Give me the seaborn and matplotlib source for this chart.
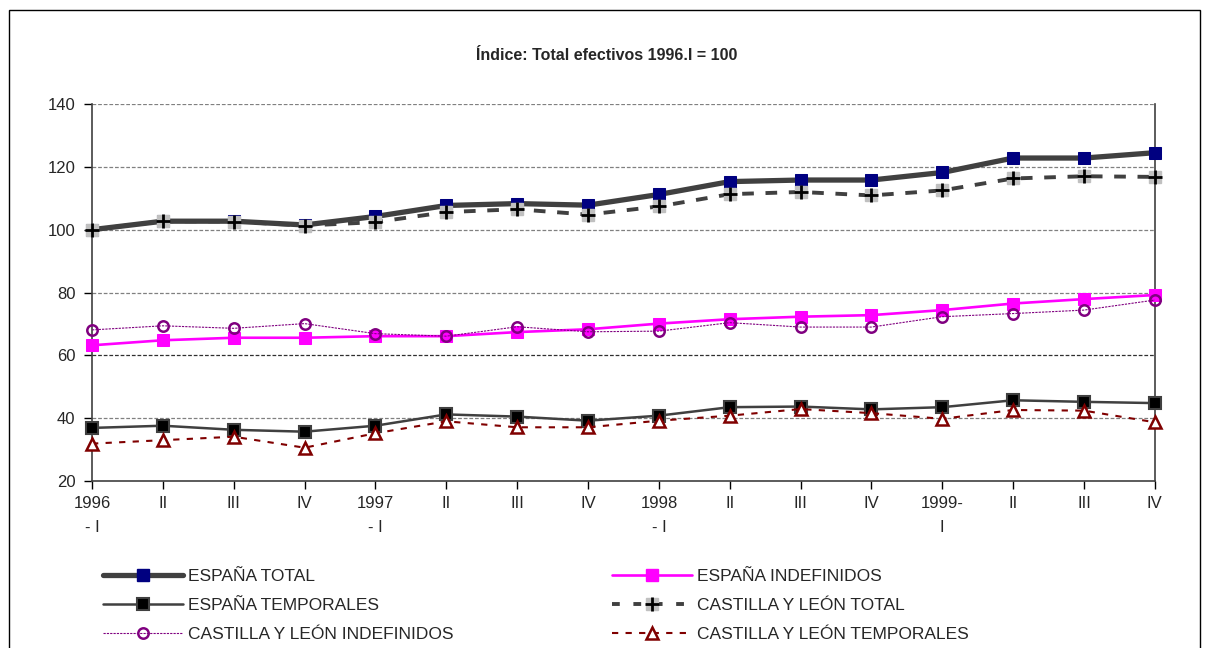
"""Índice de efectivos: España vs Castilla y León, 1996-1999 (base 1996.I = 100)."""

import matplotlib
matplotlib.use("Agg")
import matplotlib.pyplot as plt
from matplotlib.legend_handler import HandlerTuple
from matplotlib.patches import Rectangle
import numpy as np
import pandas as pd
import seaborn as sns

# quarters
quarters = ["1996\n- I", "II", "III", "IV",
            "1997\n- I", "II", "III", "IV",
            "1998\n- I", "II", "III", "IV",
            "1999-\nI", "II", "III", "IV"]

# series (index 1996.I = 100)
espana_total = [100.0, 102.7, 102.7, 101.5, 104.2, 107.7, 108.3, 107.8,
                111.2, 115.3, 115.8, 115.8, 118.2, 122.8, 122.8, 124.5]
espana_indef = [63.2, 64.8, 65.6, 65.6, 66.1, 66.1, 67.4, 68.3,
                70.1, 71.5, 72.3, 72.8, 74.4, 76.5, 77.9, 79.2]
espana_temp = [36.9, 37.6, 36.3, 35.7, 37.6, 41.2, 40.5, 39.2,
               40.8, 43.5, 43.7, 42.8, 43.5, 45.7, 45.2, 44.8]
cyl_total = [100.0, 102.7, 102.6, 101.3, 102.4, 105.6, 106.5, 104.8,
             107.4, 111.3, 112.0, 110.9, 112.5, 116.3, 117.0, 116.8]
cyl_indef = [68.1, 69.4, 68.6, 70.1, 66.9, 66.1, 69.1, 67.5,
             67.7, 70.4, 69.0, 69.0, 72.3, 73.3, 74.4, 77.6]
cyl_temp = [31.9, 33.0, 34.1, 30.6, 35.2, 39.0, 37.1, 37.1,
            39.2, 40.8, 42.9, 41.6, 39.8, 42.6, 42.4, 38.7]

y_ticks = [20, 40, 60, 80, 100, 120, 140]

sns.set_theme(style="white")
plt.rcParams["font.family"] = ["Liberation Sans", "DejaVu Sans"]

df = pd.DataFrame({
    "x": np.arange(len(quarters)),
    "espana_total": espana_total,
    "espana_indef": espana_indef,
    "espana_temp": espana_temp,
    "cyl_total": cyl_total,
    "cyl_indef": cyl_indef,
    "cyl_temp": cyl_temp,
})

fig = plt.figure(figsize=(12.08, 6.48), dpi=100)
ax = fig.add_axes([0.0762, 0.2577, 0.8798, 0.5818])

dark = "#404040"

# España total: thick grey line, navy squares
sns.lineplot(data=df, x="x", y="espana_total", ax=ax, color=dark, linewidth=3.8,
             marker="s", markersize=8.5, markerfacecolor="#000080",
             markeredgecolor="#000080", zorder=3, clip_on=False)
# Castilla y León total: dashed line, grey square + black cross
sns.lineplot(data=df, x="x", y="cyl_total", ax=ax, color=dark, linewidth=2.8,
             linestyle=(0, (3, 3)), zorder=4)
ax.plot(df["x"], df["cyl_total"], linestyle="none", marker="s", markersize=8.5,
        markerfacecolor="#C0C0C0", markeredgecolor="#C0C0C0", zorder=5,
        clip_on=False)
ax.plot(df["x"], df["cyl_total"], linestyle="none", marker="+", markersize=10,
        markeredgewidth=2, color="black", zorder=6, clip_on=False)

# España indefinidos: magenta
sns.lineplot(data=df, x="x", y="espana_indef", ax=ax, color="#FF00FF",
             linewidth=1.9, marker="s", markersize=8.5, markerfacecolor="#FF00FF",
             markeredgecolor="#FF00FF", zorder=3, clip_on=False)
# Castilla y León indefinidos: thin purple, hollow circles
sns.lineplot(data=df, x="x", y="cyl_indef", ax=ax, color="#800080",
             linewidth=0.8, linestyle=(0, (2, 1)), marker="o", markersize=7.5,
             markerfacecolor="none", markeredgecolor="#800080",
             markeredgewidth=1.8, zorder=4, clip_on=False)

# España temporales: grey line, black squares
sns.lineplot(data=df, x="x", y="espana_temp", ax=ax, color=dark, linewidth=1.8,
             marker="s", markersize=8, markerfacecolor="black",
             markeredgecolor=dark, markeredgewidth=1.5, zorder=3, clip_on=False)
# Castilla y León temporales: dark red dashed, hollow triangles
sns.lineplot(data=df, x="x", y="cyl_temp", ax=ax, color="#800000",
             linewidth=1.5, linestyle=(0, (3, 3.5)), marker="^", markersize=8,
             markerfacecolor="white", markeredgecolor="#800000",
             markeredgewidth=1.8, zorder=4, clip_on=False)

ax.set_xlim(0, len(quarters) - 1)
ax.set_ylim(20, 140)
ax.set_yticks(y_ticks)
ax.set_yticklabels([str(v) for v in y_ticks], fontsize=12)
ax.set_xticks(np.arange(len(quarters)))
ax.set_xticklabels(quarters, fontsize=12, linespacing=1.75, va="top")
ax.set_xlabel("")
ax.set_ylabel("")
ax.tick_params(axis="both", direction="out", length=6, width=1, color="black",
               bottom=True, left=True, pad=6)
ax.tick_params(axis="x", pad=5)

for y in y_ticks[1:]:
    ax.axhline(y, color="#808080" if y != 60 else "#303030", linewidth=0.9,
               linestyle=(0, (3, 1.5)), zorder=1)

for side in ["left", "bottom", "right"]:
    ax.spines[side].set_color(dark)
    ax.spines[side].set_linewidth(1.2)
ax.spines["top"].set_visible(False)

fig.text(0.502, 0.915, "Índice: Total efectivos 1996.I = 100",
         ha="center", va="center", fontsize=11.5, fontweight="bold")

# legend handles, drawn in two separate columns
h_esp_total = plt.Line2D([], [], color=dark, lw=3.8, marker="s", ms=8.5,
                         mfc="#000080", mec="#000080")
h_esp_indef = plt.Line2D([], [], color="#FF00FF", lw=1.9, marker="s", ms=8.5,
                         mfc="#FF00FF", mec="#FF00FF")
h_esp_temp = plt.Line2D([], [], color=dark, lw=1.8, marker="s", ms=8,
                        mfc="black", mec=dark, mew=1.5)
h_cyl_line = plt.Line2D([], [], color=dark, lw=2.8, ls=(0, (2, 3.5)),
                        marker="s", ms=8.5, mfc="#C0C0C0", mec="#C0C0C0")
h_cyl_plus = plt.Line2D([], [], ls="none", marker="+", ms=10, mew=2,
                        color="black")
h_cyl_indef = plt.Line2D([], [], color="#800080", lw=0.8, ls=(0, (2, 1)),
                         marker="o", ms=7.5, mfc="none", mec="#800080", mew=1.8)
h_cyl_temp = plt.Line2D([], [], color="#800000", lw=1.5, ls=(0, (3, 3.5)),
                        marker="^", ms=8, mfc="white", mec="#800000", mew=1.8)

legend_kw = dict(frameon=False, fontsize=12.5, handlelength=4.6,
                 handletextpad=0.3, labelspacing=0.8, borderaxespad=0,
                 borderpad=0, handler_map={tuple: HandlerTuple(ndivide=1)})

fig.legend([h_esp_total, h_esp_temp, h_cyl_indef],
           ["ESPAÑA TOTAL", "ESPAÑA TEMPORALES", "CASTILLA Y LEÓN INDEFINIDOS"],
           loc="upper left", bbox_to_anchor=(0.085, 0.1227), **legend_kw)
fig.legend([h_esp_indef, (h_cyl_line, h_cyl_plus), h_cyl_temp],
           ["ESPAÑA INDEFINIDOS", "CASTILLA Y LEÓN TOTAL",
            "CASTILLA Y LEÓN TEMPORALES"],
           loc="upper left", bbox_to_anchor=(0.5066, 0.1227), **legend_kw)

# outer chart border
fig.patches.append(Rectangle((9 / 1208, -0.02), 1191 / 1208, 1.02 - 10 / 648,
                             transform=fig.transFigure, fill=False,
                             edgecolor="black", linewidth=1))

fig.savefig("out.png", dpi=100)
